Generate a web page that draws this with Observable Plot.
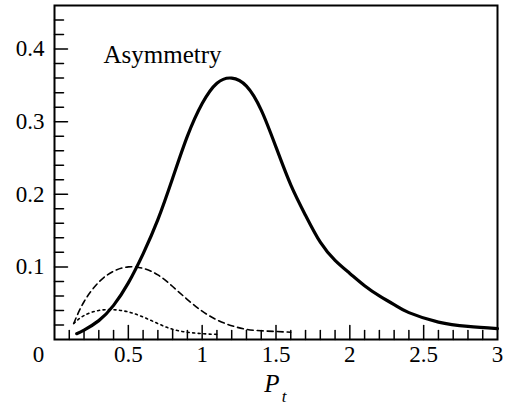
<!DOCTYPE html>
<html>
<head>
<meta charset="utf-8">
<script src="https://cdn.jsdelivr.net/npm/d3@7"></script>
<script src="https://cdn.jsdelivr.net/npm/@observablehq/plot@0.6"></script>
<style>
  html, body { margin: 0; padding: 0; background: #fff; }
  svg, svg text { font-family: "Liberation Serif", "Times New Roman", serif; }
</style>
</head>
<body>
<div id="chart"></div>
<script>
// Solid (thick) curve
const solidX = [0.15,0.2,0.3,0.4,0.5,0.6,0.7,0.8,0.9,1.0,1.1,1.2,1.3,1.4,1.5,1.6,1.7,1.8,1.9,2.0,2.1,2.2,2.3,2.4,2.6,2.8,3.0];
const solidY = [0.008,0.013,0.026,0.047,0.078,0.118,0.165,0.222,0.28,0.325,0.353,0.36,0.349,0.316,0.265,0.213,0.171,0.134,0.109,0.091,0.074,0.06,0.048,0.037,0.024,0.018,0.015];
// Dashed curve
const dashX = [0.13,0.2,0.3,0.4,0.5,0.6,0.7,0.8,0.9,1.0,1.1,1.2,1.3,1.4,1.5,1.6];
const dashY = [0.022,0.052,0.079,0.094,0.1,0.098,0.089,0.073,0.055,0.039,0.027,0.019,0.014,0.012,0.011,0.01];
// Dotted curve
const dotX = [0.13,0.2,0.3,0.4,0.5,0.6,0.7,0.8,0.9,1.0,1.1];
const dotY = [0.022,0.033,0.04,0.041,0.038,0.031,0.022,0.014,0.01,0.008,0.007];

const xLabels = [0, 0.5, 1, 1.5, 2, 2.5, 3];
const xMinor = [0.1,0.2,0.3,0.4,0.6,0.7,0.8,0.9,1.1,1.2,1.3,1.4,1.6,1.7,1.8,1.9,2.1,2.2,2.3,2.4,2.6,2.7,2.8,2.9];
const yLabels = [0.1, 0.2, 0.3, 0.4];
const yMinor = [0.02,0.04,0.06,0.08,0.12,0.14,0.16,0.18,0.22,0.24,0.26,0.28,0.32,0.34,0.36,0.38,0.42,0.44];
const title = "Asymmetry";
const xTitle = "P";
const xSub = "t";

const solid = solidX.map((x, i) => ({x, y: solidY[i]}));
const dashed = dashX.map((x, i) => ({x, y: dashY[i]}));
const dotted = dotX.map((x, i) => ({x, y: dotY[i]}));

const W = 508, H = 410, ML = 54, MR = 11, MT = 5, MB = 71;
const FW = W - ML - MR, FH = H - MT - MB;
const XD = [0, 3], YD = [0, 0.46];
const FONT = "Liberation Serif";

// inward tick segments, lengths converted from pixels to data units
const pxY = px => px * (YD[1] - YD[0]) / FH;
const pxX = px => px * (XD[1] - XD[0]) / FW;
const xTickSegs = [];
xMinor.forEach((v, i) => { xTickSegs.push({x: v, y: 0, id: "xm" + i}, {x: v, y: pxY(9), id: "xm" + i}); });
xLabels.slice(1, -1).forEach((v, i) => { xTickSegs.push({x: v, y: 0, id: "xM" + i}, {x: v, y: pxY(14), id: "xM" + i}); });
const yTickSegs = [];
yMinor.forEach((v, i) => { yTickSegs.push({x: 0, y: v, id: "ym" + i}, {x: pxX(9), y: v, id: "ym" + i}); });
yLabels.forEach((v, i) => { yTickSegs.push({x: 0, y: v, id: "yM" + i}, {x: pxX(13), y: v, id: "yM" + i}); });

const plot = Plot.plot({
  width: W,
  height: H,
  marginLeft: ML,
  marginRight: MR,
  marginTop: MT,
  marginBottom: MB,
  style: {fontFamily: FONT, fontSize: "23px", color: "#000", background: "#fff"},
  x: {domain: XD, axis: null},
  y: {domain: YD, axis: null},
  marks: [
    Plot.line(xTickSegs, {x: "x", y: "y", z: "id", stroke: "#000", strokeWidth: 1.5}),
    Plot.line(yTickSegs, {x: "x", y: "y", z: "id", stroke: "#000", strokeWidth: 1.5}),
    // tick labels
    Plot.text(yLabels, {y: d => d, frameAnchor: "left", dx: -10, textAnchor: "end", text: d3.format(".1f"), fontFamily: FONT, fontSize: 23}),
    Plot.text(xLabels.filter(d => d > 0), {x: d => d, frameAnchor: "bottom", dy: 22, text: d => String(d), fontFamily: FONT, fontSize: 23}),
    Plot.text(xLabels.filter(d => d === 0), {x: d => d, frameAnchor: "bottom", dy: 22, dx: -16, text: d => String(d), fontFamily: FONT, fontSize: 23}),
    // axis title P_t
    Plot.text([xTitle], {frameAnchor: "bottom", dy: 52, dx: -4, text: d => d, fontStyle: "italic", fontFamily: FONT, fontSize: 25}),
    Plot.text([xSub], {frameAnchor: "bottom", dy: 62, dx: 8, text: d => d, fontStyle: "italic", fontFamily: FONT, fontSize: 17}),
    // curves
    Plot.line(dotted, {x: "x", y: "y", stroke: "#000", strokeWidth: 1.6, strokeDasharray: "2,3.5", curve: "natural"}),
    Plot.line(dashed, {x: "x", y: "y", stroke: "#000", strokeWidth: 1.6, strokeDasharray: "6,4", curve: "natural"}),
    Plot.line(solid, {x: "x", y: "y", stroke: "#000", strokeWidth: 3.2, curve: "natural"}),
    // annotation
    Plot.text([title], {frameAnchor: "top-left", dx: 49, dy: 40, text: d => d, textAnchor: "start", fontFamily: FONT, fontSize: 25}),
    Plot.frame({stroke: "#000", strokeWidth: 2})
  ]
});
plot.setAttribute("font-family", FONT);
d3.select(plot).selectAll("text").attr("font-family", FONT).style("font-family", FONT);
document.getElementById("chart").appendChild(plot);
</script>
</body>
</html>
